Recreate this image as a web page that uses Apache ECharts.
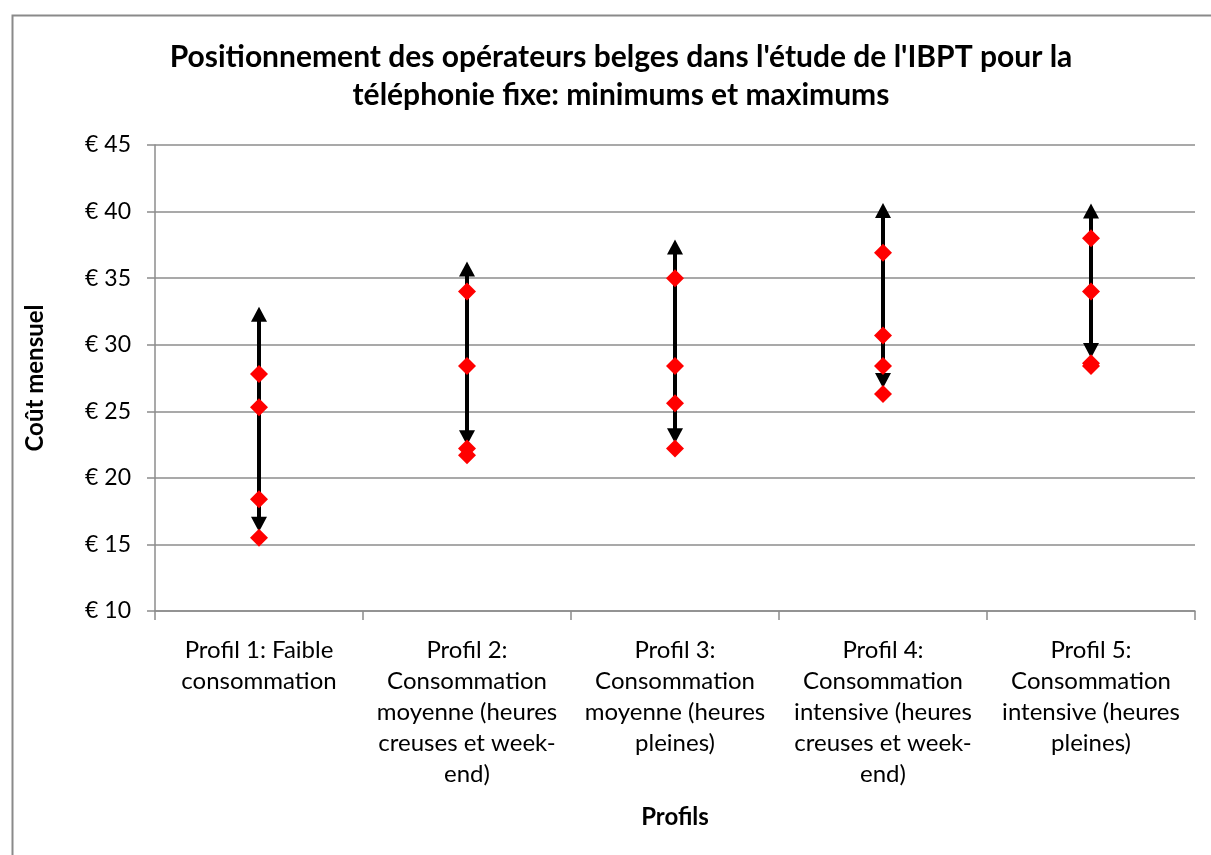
<!DOCTYPE html>
<html>
<head>
<meta charset="utf-8">
<script src="https://cdn.jsdelivr.net/npm/echarts@6/dist/echarts.min.js"></script>
<style>
  html, body { margin: 0; padding: 0; background: #fff; }
  #chart { width: 1211px; height: 855px; }
</style>
</head>
<body>
<div id="chart"></div>
<script>
// profils (axe des catégories)
const categories = [
  'Profil 1: Faible\nconsommation',
  'Profil 2:\nConsommation\nmoyenne (heures\ncreuses et week-\nend)',
  'Profil 3:\nConsommation\nmoyenne (heures\npleines)',
  'Profil 4:\nConsommation\nintensive (heures\ncreuses et week-\nend)',
  'Profil 5:\nConsommation\nintensive (heures\npleines)'
];
// extrémités des flèches (min / max)
const arrowTop = [32.85, 36.25, 37.9, 40.65, 40.6];
const arrowBottom = [15.95, 22.45, 22.6, 26.75, 29.0];
// losanges rouges (opérateurs)
const opA = [27.8, 34.0, 35.0, 36.9, 38.0];
const opB = [25.3, 28.4, 28.4, 30.7, 34.0];
const opC = [18.4, 22.2, 25.6, 28.4, 28.6];
const opD = [15.5, 21.7, 22.2, 26.3, 28.4];
const yTicks = { min: 10, max: 45, step: 5 };

const FONT = 'Lato, "Open Sans", sans-serif';
const GRID = '#8c8c8c';

const chart = echarts.init(document.getElementById('chart'));

const arrowData = categories.map((c, i) => [i, arrowBottom[i], arrowTop[i]]);

function renderArrow(params, api) {
  const top = api.coord([api.value(0), api.value(2)]);
  const bot = api.coord([api.value(0), api.value(1)]);
  const hw = 8, hh = 15, x = top[0];
  return {
    type: 'group',
    children: [
      { type: 'line', shape: { x1: x, y1: top[1] + hh - 1, x2: x, y2: bot[1] - hh + 1 },
        style: { stroke: '#000', lineWidth: 4 } },
      { type: 'polygon', shape: { points: [[x, top[1]], [x - hw, top[1] + hh], [x + hw, top[1] + hh]] },
        style: { fill: '#000' } },
      { type: 'polygon', shape: { points: [[x, bot[1]], [x - hw, bot[1] - hh], [x + hw, bot[1] - hh]] },
        style: { fill: '#000' } }
    ]
  };
}

const diamond = (data) => ({
  type: 'scatter', data: data, symbol: 'diamond', symbolSize: 18,
  itemStyle: { color: '#ff0000', opacity: 1 }, z: 5, silent: true
});

chart.setOption({
  animation: false,
  backgroundColor: '#fff',
  title: {
    text: "Positionnement des opérateurs belges dans l'étude de l'IBPT pour la\ntéléphonie fixe: minimums et maximums",
    left: 616, top: 33, textAlign: 'center',
    textStyle: { fontFamily: FONT, fontWeight: 'bold', fontSize: 30, color: '#000', lineHeight: 38 }
  },
  graphic: [{
    type: 'rect', left: 10, top: 13,
    shape: { width: 1240, height: 900 },
    style: { fill: 'none', stroke: '#8a8a8a', lineWidth: 2 }, silent: true
  }],
  grid: { left: 155, top: 145, right: 16, bottom: 244 },
  xAxis: {
    type: 'category', data: categories, boundaryGap: true,
    name: 'Profils', nameLocation: 'middle', nameGap: 194,
    nameTextStyle: { fontFamily: FONT, fontWeight: 'bold', fontSize: 24, color: '#000' },
    axisLine: { lineStyle: { color: GRID, width: 1.5 } },
    axisTick: { show: true, length: 9, lineStyle: { color: GRID, width: 1.5 } },
    axisLabel: { fontFamily: FONT, fontSize: 24, color: '#000', lineHeight: 31, margin: 24, interval: 0 },
    splitLine: { show: false }
  },
  yAxis: {
    type: 'value', min: yTicks.min, max: yTicks.max, interval: yTicks.step,
    name: 'Coût mensuel', nameLocation: 'middle', nameGap: 108, nameRotate: 90,
    nameTextStyle: { fontFamily: FONT, fontWeight: 'bold', fontSize: 24, color: '#000' },
    axisLine: { show: true, lineStyle: { color: GRID, width: 1.5 } },
    axisTick: { show: true, length: 8, lineStyle: { color: GRID, width: 1.5 } },
    axisLabel: { fontFamily: FONT, fontSize: 23, color: '#000', margin: 24, formatter: (v) => '€ ' + v },
    splitLine: { lineStyle: { color: GRID, width: 1.5 } }
  },
  series: [
    { type: 'custom', data: arrowData, renderItem: renderArrow, z: 3, silent: true },
    diamond(opA), diamond(opB), diamond(opC), diamond(opD)
  ]
});
</script>
</body>
</html>
